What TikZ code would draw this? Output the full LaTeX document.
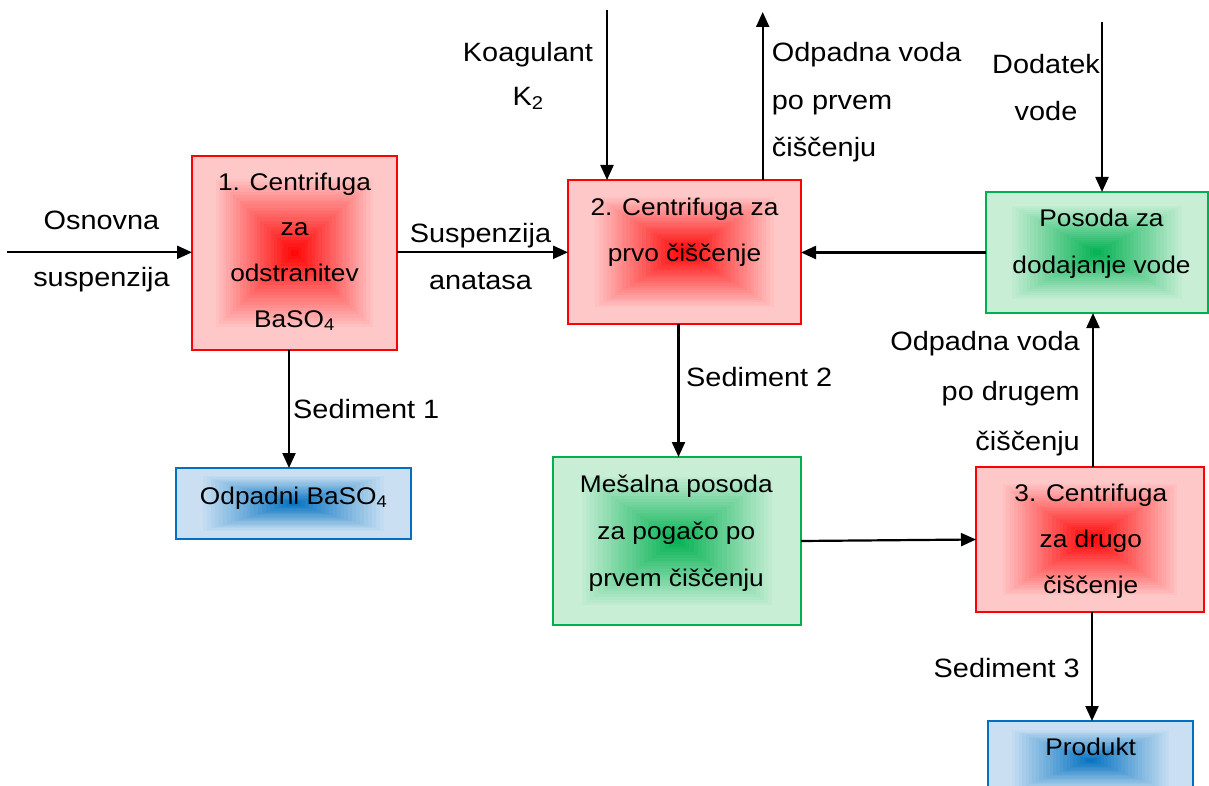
\documentclass[tikz,border=0pt]{standalone}
\usepackage{fontspec}
\setmainfont{Liberation Sans}[FakeStretch=1.09]
\usetikzlibrary{arrows.meta,calc}
\definecolor{rC}{RGB}{255,0,0}
\definecolor{rO}{RGB}{255,200,200}
\definecolor{gC}{RGB}{0,176,80}
\definecolor{gO}{RGB}{200,238,214}
\definecolor{bC}{RGB}{0,112,192}
\definecolor{bO}{RGB}{202,224,242}
\newcommand\tst{\rule{0pt}{21pt}}
\newcommand\gradfill[2]{%
  \foreach \gk in {0,...,29}{%
    \pgfmathsetmacro\gf{1-\gk/30}%
    \pgfmathsetmacro\gp{max(0,min(100,100*(1-\gf/0.8)))}%
    \fill[#1!\gp!#2] ($(path picture bounding box.center)!\gf!(path picture bounding box.north east)$) rectangle ($(path picture bounding box.center)!\gf!(path picture bounding box.south west)$);
  }}
\tikzset{
  box/.style={draw, line width=2pt, inner sep=0pt, outer sep=0pt},
  rbox/.style={box, draw=rC, path picture={\gradfill{rC}{rO}}},
  gbox/.style={box, draw=gC, path picture={\gradfill{gC}{gO}}},
  bbox/.style={box, draw=bC, path picture={\gradfill{bC}{bO}}},
  arr/.style={line width=2.2pt, -{Triangle[length=15pt,width=13pt]}},
  lab/.style={inner sep=0pt, font=\fontsize{26.5}{50}\selectfont},
  btxt/.style={inner sep=0pt, align=center, anchor=north, font=\fontsize{26.5}{#1}\selectfont},
  intxt/.style={btxt=#1, font=\fontsize{24.1}{#1}\selectfont},
  inlab/.style={inner sep=0pt, anchor=base, font=\fontsize{24.1}{30}\selectfont},
}
\begin{document}
\begin{tikzpicture}[x=1pt,y=-1pt]
\fill[white] (0,0) rectangle (1209,786);
\useasboundingbox (0,0) rectangle (1209,786);
% boxes
\node[rbox, minimum width=205pt, minimum height=194pt] (b1) at (294.5,253) {};
\node[rbox, minimum width=233pt, minimum height=144pt] (b2) at (684.5,252) {};
\node[gbox, minimum width=222pt, minimum height=121pt] (g1) at (1097,252.5) {};
\node[bbox, minimum width=235pt, minimum height=71pt] (o1) at (293.5,503.5) {};
\node[gbox, minimum width=248pt, minimum height=168pt] (m1) at (677,541) {};
\node[rbox, minimum width=228pt, minimum height=145pt] (b3) at (1090,539.5) {};
\node[bbox, minimum width=205pt, minimum height=79pt] (p1) at (1090.5,760.5) {};
% box texts
\node[intxt=45.6] (t1) at (294.5,169) {\tst 1. Centrifuga\\za\\odstranitev\\BaSO\textsubscript{4}};
\node[intxt=46.7] (t2) at (684.5,194) {\tst 2. Centrifuga za\\prvo čiščenje};
\node[intxt=46.6] (tg) at (1101.5,205.7) {\tst Posoda za\\dodajanje vode};
\node[intxt=47] (tm) at (676.3,471.7) {\tst Mešalna posoda\\za pogačo po\\prvem čiščenju};
\node[intxt=45.7] (t3) at (1090.8,480.7) {\tst 3. Centrifuga\\za drugo\\čiščenje};
\node[inlab] (to) at (293.7,504) {Odpadni BaSO\textsubscript{4}};
\node[inlab] (tp) at (1090.7,755) {Produkt};
% free ends
\coordinate (in0) at (7,252.3);
\coordinate (kin) at (607,10);
\coordinate (wout) at (762.7,12);
\coordinate (din) at (1102,22);
% arrows
\draw[arr] (in0) -- (in0 -| b1.west);
\draw[arr] (b1.east |- in0) -- (b2.west |- in0);
\draw[arr] (kin) -- (kin |- b2.north);
\draw[arr] (wout |- b2.north) -- (wout);
\draw[arr] (din) -- (din |- g1.north);
\draw[arr] (g1.west) -- (g1.west -| b2.east);
\draw[arr] ([xshift=-5.5pt]b1.south) -- ([xshift=-5.5pt]b1.south |- o1.north);
\draw[arr] ([xshift=-6pt]b2.south) -- ([xshift=-6pt]b2.south |- m1.north);
\draw[arr] (m1.east) -- (b3.west);
\draw[arr] ([xshift=3pt]b3.north) -- ([xshift=3pt]b3.north |- g1.south);
\draw[arr] ([xshift=2pt]b3.south) -- ([xshift=2pt]b3.south |- p1.north);
% labels
\node[btxt=57.4] (lOs) at (101.5,208.3) {\tst Osnovna\\suspenzija};
\node[btxt=47] (lSu) at (480.5,221) {\tst Suspenzija\\anatasa};
\node[btxt=44] (lKo) at (528,40) {\tst Koagulant\\K\textsubscript{2}};
\node[btxt=47.5, anchor=north west, align=left] (lOp) at (771.7,40.7) {\tst Odpadna voda\\po prvem\\čiščenju};
\node[btxt=47] (lDo) at (1046,52.5) {\tst Dodatek\\vode};
\node[btxt=50, anchor=north east, align=right] (lOd) at (1080,329) {\tst Odpadna voda\\po drugem\\čiščenju};
\node[lab, anchor=base west] (lS1) at (293,418) {Sediment 1};
\node[lab, anchor=base west] (lS2) at (686,386) {Sediment 2};
\node[lab, anchor=base east] (lS3) at (1080,677) {Sediment 3};
\end{tikzpicture}
\end{document}
